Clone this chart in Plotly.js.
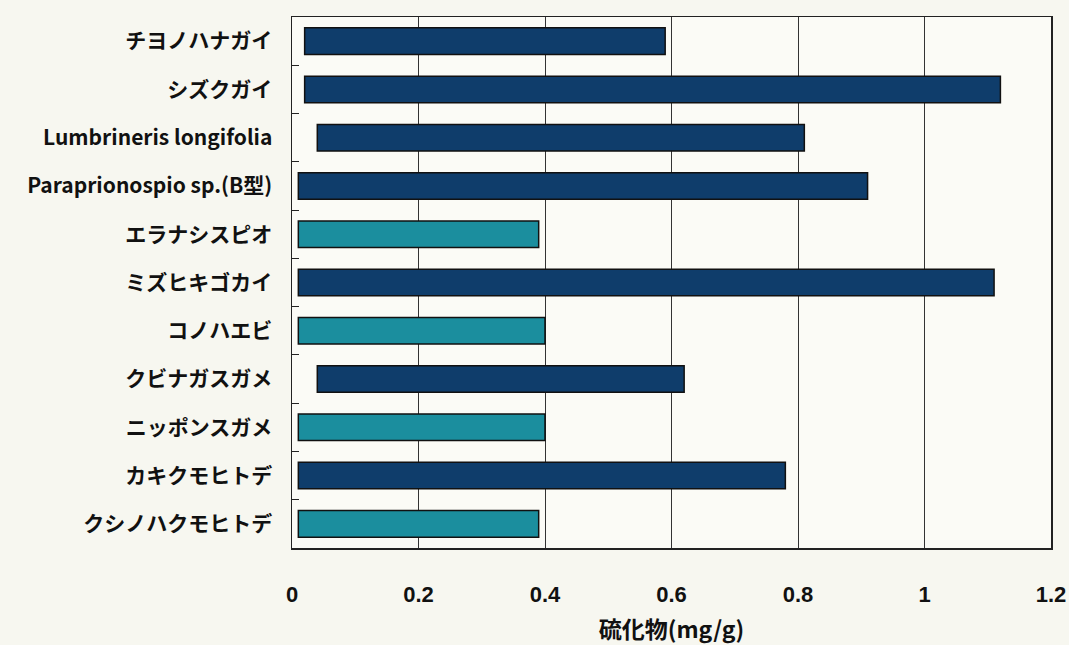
<!DOCTYPE html>
<html>
<head>
<meta charset="utf-8">
<script src="https://cdn.plot.ly/plotly-3.0.1.min.js"></script>
<style>html,body{margin:0;padding:0;background:#f7f7f0;}</style>
</head>
<body>
<div id="chart" style="width:1069px;height:645px;"></div>
<script>
const species = ['チヨノハナガイ','シズクガイ','Lumbrineris longifolia','Paraprionospio sp.(B型)','エラナシスピオ','ミズヒキゴカイ','コノハエビ','クビナガスガメ','ニッポンスガメ','カキクモヒトデ','クシノハクモヒトデ'];
const lowValues  = [0.02, 0.02, 0.04, 0.01, 0.01, 0.01, 0.01, 0.04, 0.01, 0.01, 0.01];
const highValues = [0.59, 1.12, 0.81, 0.91, 0.39, 1.11, 0.40, 0.62, 0.40, 0.78, 0.39];
const group = ['dark','dark','dark','dark','teal','dark','teal','dark','teal','dark','teal'];
const xTicks = [0, 0.2, 0.4, 0.6, 0.8, 1, 1.2];
const xTickLabels = ['0', '0.2', '0.4', '0.6', '0.8', '1', '1.2'];

const colorMap = {dark: '#0f3d6b', teal: '#1b8e9e'};

const trace = {
  type: 'bar',
  orientation: 'h',
  y: species,
  base: lowValues,
  x: highValues.map((h, i) => h - lowValues[i]),
  marker: {
    color: group.map(g => colorMap[g]),
    line: {color: '#111111', width: 1.5}
  },
  hoverinfo: 'skip'
};

const layout = {
  width: 1069, height: 645,
  margin: {l: 292, r: 18, t: 17, b: 97},
  paper_bgcolor: '#f7f7f0',
  plot_bgcolor: '#fbfbf6',
  bargap: 0.45,
  showlegend: false,
  font: {family: '"Noto Sans CJK JP", sans-serif', color: '#111111'},
  xaxis: {
    range: [0, 1.2],
    tickvals: xTicks,
    ticktext: xTickLabels,
    showgrid: true,
    gridcolor: '#333333',
    gridwidth: 1,
    zeroline: false,
    showline: true,
    linecolor: '#222222',
    linewidth: 1.5,
    mirror: true,
    ticks: '',
    ticklabelstandoff: 26,
    ticklabeloverflow: 'allow',
    tickfont: {family: '"Liberation Sans Narrow", "Arial Narrow", sans-serif', size: 22, color: '#111111', weight: 'bold'},
    title: {text: '硫化物(mg/g)', standoff: 18, font: {family: '"Noto Sans CJK JP", sans-serif', size: 23, color: '#111111', weight: 'bold'}}
  },
  yaxis: {
    type: 'category',
    autorange: 'reversed',
    showgrid: false,
    zeroline: false,
    showline: true,
    linecolor: '#222222',
    linewidth: 1.5,
    mirror: true,
    ticks: 'inside',
    tickson: 'boundaries',
    ticklen: 7,
    tickcolor: '#222222',
    ticklabelstandoff: 14,
    tickfont: {family: '"Noto Sans CJK JP", sans-serif', size: 21, color: '#111111', weight: 'bold'}
  }
};

Plotly.newPlot('chart', [trace], layout, {displayModeBar: false, staticPlot: true});
</script>
</body>
</html>
